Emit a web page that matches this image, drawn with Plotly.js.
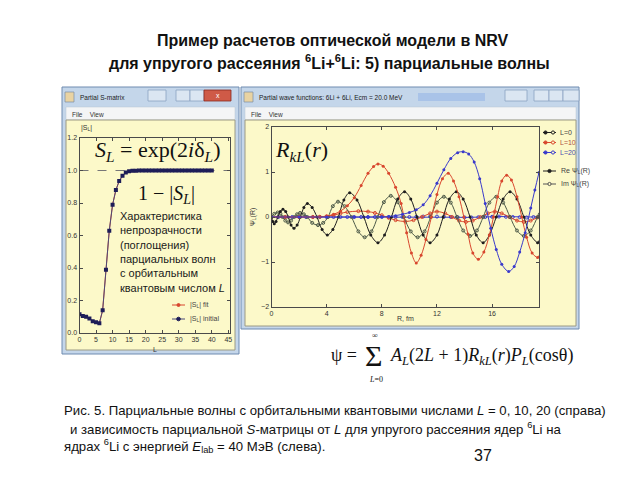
<!DOCTYPE html>
<html><head><meta charset="utf-8">
<script src="https://cdn.plot.ly/plotly-3.0.1.min.js"></script>
<style>html,body{margin:0;padding:0;background:#fff}</style>
</head><body><div id="chart" style="width:640px;height:480px"></div>
<script>
// ---------- Left panel: |S_L| versus L ----------
const Lvals = [0,1,2,3,4,5,6,7,8,9,10,11,12,13,14,15,16,17,18,19,20,21,22,23,24,25,26,27,28,29,30,31,32,33,34,35,36,37,38,39,40];
const SLabs = [0.115,0.105,0.1,0.09,0.072,0.066,0.06,0.14,0.39,0.63,0.79,0.88,0.935,0.968,0.988,0.995,0.998,0.999,1,1,1,1,1,1,1,1,1,1,1,1,1,1,1,1,1,1,1,1,1,1,1];
const SLref = 1.0;
const leftXTicks = [0,5,10,15,20,25,30,35,40,45];

// ---------- Right panel: partial wave functions ----------
// L = 0, Re
const rL0re = [0,0.1,0.2,0.33,0.45,0.64,0.83,1.03,1.22,1.42,1.63,1.86,2.1,2.35,2.6,2.95,3.3,3.67,4.05,4.45,4.85,5.25,5.67,6.2,6.7,7.2,7.72,8.2,8.7,9.15,9.65,10.1,10.55,11.0,11.5,12.0,12.45,12.9,13.4,13.9,14.4,14.85,15.35,15.8,16.3,16.8,17.3,17.8,18.3,18.8,19.3,19.45];
const psiL0re = [0,-0.1,-0.15,-0.1,0,0.12,0.17,0.12,0,-0.18,-0.25,-0.18,0,0.21,0.3,0.21,0,-0.28,-0.4,-0.28,0,0.38,0.54,0.38,0,-0.4,-0.57,-0.4,0,0.4,0.56,0.4,0,-0.4,-0.57,-0.4,0,0.4,0.56,0.4,0,-0.4,-0.57,-0.4,0,0.4,0.56,0.4,0,-0.4,-0.57,-0.55];
// L = 0, Im
const rL0im = [0,0.2,0.45,0.65,0.8,1.0,1.2,1.42,1.65,1.85,2.07,2.35,2.6,2.95,3.37,3.75,4.1,4.45,4.82,5.3,5.8,6.3,6.76,7.25,7.7,8.15,8.65,9.15,9.6,10.1,10.6,11.1,11.55,12.0,12.5,13.0,13.45,13.9,14.4,14.9,15.35,15.8,16.3,16.8,17.3,17.8,18.3,18.8,19.3,19.45];
const psiL0im = [0,0.07,0.1,0.07,0,-0.08,-0.12,-0.08,0,0.06,0.09,0.06,0,-0.13,-0.18,-0.13,0,0.24,0.34,0.24,0,-0.32,-0.45,-0.32,0,0.33,0.47,0.33,0,-0.32,-0.45,-0.32,0,0.32,0.45,0.32,0,-0.3,-0.42,-0.3,0,0.32,0.45,0.32,0,-0.3,-0.42,-0.3,0,0.06];
// L = 10, Re
const rL10re = [0,1,2,3,3.5,4,4.5,5,5.5,6,6.5,7,7.4,7.72,8.1,8.5,9,9.4,9.8,10.15,10.5,10.85,11.2,11.6,12,12.4,12.82,13.2,13.6,13.95,14.25,14.6,15,15.4,15.8,16.1,16.4,16.7,17.05,17.4,17.8,18.15,18.5,18.9,19.3,19.45];
const psiL10re = [0,0,0,0,0.005,0.02,0.06,0.13,0.25,0.43,0.7,0.97,1.12,1.18,1.13,0.97,0.66,0.3,-0.35,-0.8,-1.02,-0.85,-0.5,0,0.5,0.85,0.97,0.8,0.45,0,-0.38,-0.8,-0.94,-0.78,-0.4,0,0.45,0.8,0.93,0.82,0.45,0,-0.45,-0.8,-0.9,-0.88];
// L = 10, Im
const rL10im = [0,1,2,3,3.5,4,4.5,5,5.5,6.3,7,7.5,8,8.5,9,9.7,10.3,10.9,11.5,12,12.6,13.1,13.6,14.1,14.6,15.15,15.7,16.2,16.7,17.25,17.8,18.3,18.8,19.3,19.45];
const psiL10im = [0,0,0,0,0.005,0.015,0.04,0.08,0.11,0.13,0.12,0.09,0.04,-0.02,-0.07,-0.1,-0.07,0,0.08,0.12,0.08,0,-0.08,-0.11,-0.08,0,0.08,0.12,0.08,0,-0.08,-0.11,-0.08,-0.01,0.01];
// L = 20, Re
const rL20re = [0,2,4,6,7,8,8.5,9,9.5,10,10.5,11,11.5,12,12.5,13,13.5,13.9,14.3,14.7,15.1,15.5,15.9,16.3,16.7,17.2,17.6,18,18.4,18.8,19.1,19.4];
const psiL20re = [0,0,0,0,0,0.005,0.01,0.03,0.06,0.1,0.16,0.27,0.47,0.75,1.05,1.3,1.43,1.45,1.4,1.22,0.85,0.3,-0.25,-0.72,-1.05,-1.21,-1.1,-0.78,-0.35,0.2,0.6,0.99];
// L = 20, Im
const rL20im = [0,0.5,1,1.5,2,2.5,3,3.5,4,4.5,5,5.5,6,6.5,7,7.5,8,8.5,9,9.5,10,10.5,11,11.5,12,12.5,13,13.5,14,14.5,15,15.5,16,16.5,17,17.5,18,18.5,19,19.4];
const psiL20im = [0,0,0,0,0,0,0,0,0,0,0,0,0,0,0,0,0,0,0,0,0,0.005,0.01,0.01,0.01,0.005,0,-0.005,-0.01,-0.01,-0.005,0,0.005,0.01,0.005,0,-0.005,-0.01,0,0.01];
const rightXTicks = [0,4,8,12,16];
const rightYTicks = [-2,-1,0,1,2];

// ---------- styling helpers (paper pixel mapping) ----------
const W = 640, H = 480;
const PX = p => p / W, PY = p => 1 - p / H;
function rect(x0, y0, x1, y1, fill, line, lw, layer) {
  return {type:'rect', xref:'paper', yref:'paper', x0:PX(x0), x1:PX(x1), y0:PY(y1), y1:PY(y0),
    fillcolor:fill, line:{color:line || 'rgba(0,0,0,0)', width: lw === undefined ? 1 : lw}, layer: layer || 'below'};
}
function seg(x0, y0, x1, y1, color, w) {
  return {type:'line', xref:'paper', yref:'paper', x0:PX(x0), x1:PX(x1), y0:PY(y0), y1:PY(y1),
    line:{color:color, width:w || 1}, layer:'above'};
}
function dot(x, y, r, color, open) {
  return {type:'circle', xref:'paper', yref:'paper', x0:PX(x - r), x1:PX(x + r), y0:PY(y + r), y1:PY(y - r),
    fillcolor: open ? '#fcf9c9' : color, line:{color:color, width:1}, layer:'above'};
}
function ann(text, x, y, o) {
  o = o || {};
  return {text:text, xref:'paper', yref:'paper', x:PX(x), y:PY(y), showarrow:false,
    xanchor:o.xa || 'center', yanchor:o.ya || 'middle', align:o.align || 'left',
    textangle:o.angle || 0,
    font:{family:o.family || 'Liberation Sans, Arial, sans-serif', size:o.size || 12, color:o.color || '#111'}};
}

const C0 = '#1e1e1e', C0im = '#4d5a48', C10 = '#d8472e', C20 = '#3a3acb';
const YEL = '#fcf9c9';

const traces = [
  // left
  {x:Lvals, y:SLabs, xaxis:'x', yaxis:'y', mode:'lines+markers', name:'fit', showlegend:false,
   line:{color:C10, width:1}, marker:{color:C10, size:3}},
  {x:Lvals, y:SLabs, xaxis:'x', yaxis:'y', mode:'lines+markers', name:'initial', showlegend:false,
   line:{color:'#4b4a78', width:1}, marker:{color:'#1d1d58', size:4, symbol:'square'}},
  // right
  {x:rL20im, y:psiL20im, xaxis:'x2', yaxis:'y2', mode:'lines+markers', showlegend:false,
   line:{color:C20, width:1}, marker:{color:C20, size:3, symbol:'circle-open'}},
  {x:rL10im, y:psiL10im, xaxis:'x2', yaxis:'y2', mode:'lines+markers', showlegend:false,
   line:{color:C10, width:1, shape:'spline'}, marker:{color:C10, size:3, symbol:'circle-open'}},
  {x:rL0im, y:psiL0im, xaxis:'x2', yaxis:'y2', mode:'lines+markers', showlegend:false,
   line:{color:C0im, width:1, shape:'spline'}, marker:{color:C0im, size:3, symbol:'circle-open'}},
  {x:rL0re, y:psiL0re, xaxis:'x2', yaxis:'y2', mode:'lines+markers', showlegend:false,
   line:{color:C0, width:1, shape:'spline'}, marker:{color:C0, size:3}},
  {x:rL10re, y:psiL10re, xaxis:'x2', yaxis:'y2', mode:'lines+markers', showlegend:false,
   line:{color:C10, width:1, shape:'spline'}, marker:{color:C10, size:3}},
  {x:rL20re, y:psiL20re, xaxis:'x2', yaxis:'y2', mode:'lines+markers', showlegend:false,
   line:{color:C20, width:1, shape:'spline'}, marker:{color:C20, size:3}}
];

const axisCommon = {showgrid:false, zeroline:false, showline:true, linecolor:'#4a4a4a', linewidth:1,
  mirror:'ticks', ticks:'inside', ticklen:3, tickcolor:'#4a4a4a',
  tickfont:{family:'Liberation Sans, Arial, sans-serif', size:7, color:'#333'}, fixedrange:true};

const shapes = [
  // left window
  rect(62, 87, 239, 354, '#c4d6ea', '#6f8bb0', 1),
  rect(66, 107, 235, 120, '#f4f5f6', '#b8c4d2', 0.5),
  rect(66, 120, 235, 350, YEL, '#9c9a84', 1),
  rect(65, 92, 74, 102, '#e9d3a2', '#7c8ea4', 0.7),
  rect(148, 90, 166, 101, '#dbe6f2', '#8aa2c2', 0.8),
  rect(176, 90, 190, 101, '#dbe6f2', '#8aa2c2', 0.8),
  rect(190, 90, 204, 101, '#dbe6f2', '#8aa2c2', 0.8),
  rect(204, 90, 231, 101, '#cf5a47', '#8a2a20', 0.8),
  // right window
  rect(241, 87, 579, 329, '#c4d6ea', '#6f8bb0', 1),
  rect(245, 107, 576, 120, '#f4f5f6', '#b8c4d2', 0.5),
  rect(245, 120, 576, 326, YEL, '#9c9a84', 1),
  rect(244, 92, 253, 102, '#e9d3a2', '#7c8ea4', 0.7),
  rect(418, 93, 485, 101, 'rgba(120,160,230,0.35)', 'rgba(0,0,0,0)', 0),
  rect(505, 90, 527, 101, '#dbe6f2', '#8aa2c2', 0.8),
  rect(534, 90, 549, 101, '#dbe6f2', '#8aa2c2', 0.8),
  rect(549, 90, 563, 101, '#dbe6f2', '#8aa2c2', 0.8),
  rect(563, 90, 579, 101, '#dbe6f2', '#8aa2c2', 0.8),
  // reference line |S_L| = 1
  {type:'line', xref:'x domain', yref:'y', x0:0, x1:1, y0:SLref, y1:SLref, line:{color:'#777', width:1, dash:'dash'}, layer:'below'},
  // left legend swatches
  seg(172, 305, 185, 305, C10, 1), dot(178.5, 305, 1.5, C10, false),
  seg(172, 319, 185, 319, '#4b4a78', 1), dot(178.5, 319, 1.8, '#1d1d58', false),
  // right legend swatches
  seg(543, 132.5, 556, 132.5, C0, 1), dot(545.5, 132.5, 1.6, C0, false), dot(553, 132.5, 1.6, C0, true),
  seg(543, 142.5, 556, 142.5, C10, 1), dot(545.5, 142.5, 1.6, C10, false), dot(553, 142.5, 1.6, C10, true),
  seg(543, 152.5, 556, 152.5, C20, 1), dot(545.5, 152.5, 1.6, C20, false), dot(553, 152.5, 1.6, C20, true),
  seg(543, 171, 556, 171, C0, 1), dot(549.5, 171, 1.6, C0, false),
  seg(543, 184, 556, 184, '#555', 1), dot(549.5, 184, 1.6, '#555', true)
];

const serif = 'Liberation Serif, Times New Roman, serif';
const annotations = [
  // slide title
  ann('<b>Пример расчетов оптической модели в NRV</b>', 333, 40, {size:16}),
  ann('<b>для упругого рассеяния <sup>6</sup>Li+<sup>6</sup>Li: 5) парциальные волны</b>', 329, 62, {size:16}),
  // window chrome text
  ann('Partial S-matrix', 78, 98, {xa:'left', size:6.5, color:'#1b1b1b'}),
  ann('File&nbsp;&nbsp;&nbsp;&nbsp;View', 70, 114, {xa:'left', size:6.5, color:'#333'}),
  ann('x', 217.5, 95.5, {size:7, color:'#fff'}),
  ann('Partial wave functions: 6Li + 6Li, Ecm = 20.0 MeV', 257, 98, {xa:'left', size:6.5, color:'#1b1b1b'}),
  ann('File&nbsp;&nbsp;&nbsp;&nbsp;View', 249, 114, {xa:'left', size:6.5, color:'#333'}),
  // left plot texts
  ann('|S<sub>L</sub>|', 86, 128, {size:7, color:'#333'}),
  ann('L', 155, 349, {size:7, color:'#333'}),
  ann('<i>S</i><sub><i>L</i></sub> = exp(2<i>i</i>δ<sub><i>L</i></sub>)', 157, 151, {size:22, family:serif, color:'#111'}),
  ann('1 − |<i>S</i><sub><i>L</i></sub>|', 166, 194, {size:20, family:serif, color:'#111'}),
  ann('Характеристика<br>непрозрачности<br>(поглощения)<br>парциальных волн<br>с орбитальным<br>квантовым числом <i>L</i>',
      118, 208, {xa:'left', ya:'top', size:11, color:'#1a1a1a'}),
  ann('|S<sub>L</sub>| fit', 188, 305, {xa:'left', size:7, color:'#444'}),
  ann('|S<sub>L</sub>| initial', 188, 319, {xa:'left', size:7, color:'#444'}),
  // right plot texts
  ann('<i>R</i><sub><i>kL</i></sub>(<i>r</i>)', 301, 151, {size:22, family:serif, color:'#111'}),
  ann('R, fm', 405, 318, {size:7, color:'#333'}),
  ann('Ψ<sub>L</sub>(R)', 253, 217, {size:7, color:'#333', angle:-90}),
  ann('L=0', 558, 132.5, {xa:'left', size:7, color:'#444'}),
  ann('L=10', 558, 142.5, {xa:'left', size:7, color:'#b0503e'}),
  ann('L=20', 558, 152.5, {xa:'left', size:7, color:'#4b4fae'}),
  ann('Re Ψ<sub>L</sub>(R)', 559, 171, {xa:'left', size:7, color:'#444'}),
  ann('Im Ψ<sub>L</sub>(R)', 559, 184, {xa:'left', size:7, color:'#444'}),
  // formula
  ann('ψ =', 344, 355, {size:18, family:serif}),
  ann('Σ', 373, 355, {size:30, family:serif}),
  ann('∞', 375, 335, {size:8, family:serif}),
  ann('<i>L</i>=0', 376, 379, {size:8, family:serif}),
  ann('<i>A</i><sub><i>L</i></sub>(2<i>L</i> + 1)<i>R</i><sub><i>kL</i></sub>(<i>r</i>)<i>P</i><sub><i>L</i></sub>(cosθ)', 388, 356, {xa:'left', size:18, family:serif}),
  // caption
  ann('Рис. 5. Парциальные волны с орбитальными квантовыми числами <i>L</i> = 0, 10, 20 (справа)', 62, 410, {xa:'left', size:13.2}),
  ann('и зависимость парциальной <i>S</i>-матрицы от <i>L</i> для упругого рассеяния ядер <sup>6</sup>Li на', 68, 428, {xa:'left', size:13.2}),
  ann('ядрах <sup>6</sup>Li с энергией <i>E</i><sub>lab</sub> = 40 МэВ (слева).', 62, 446, {xa:'left', size:13.2}),
  ann('37', 483, 455, {size:16})
];

const layout = {
  width:W, height:H, margin:{l:0, r:0, t:0, b:0},
  paper_bgcolor:'#ffffff', plot_bgcolor:'rgba(0,0,0,0)', showlegend:false,
  xaxis: Object.assign({}, axisCommon, {domain:[PX(79.5), PX(230)], range:[0, 45.5], anchor:'y', tickvals:leftXTicks}),
  yaxis: Object.assign({}, axisCommon, {domain:[PY(333), PY(138)], range:[0, 1.2], anchor:'x', dtick:0.2, tick0:0, tickformat:'.1f'}),
  xaxis2: Object.assign({}, axisCommon, {domain:[PX(271.5), PX(539)], range:[0, 19.4], anchor:'y2', tickvals:rightXTicks}),
  yaxis2: Object.assign({}, axisCommon, {domain:[PY(307), PY(127)], range:[-2, 2], anchor:'x2', tickvals:rightYTicks}),
  shapes:shapes, annotations:annotations
};

Plotly.newPlot('chart', traces, layout, {staticPlot:true, displayModeBar:false});
</script>
</body></html>
